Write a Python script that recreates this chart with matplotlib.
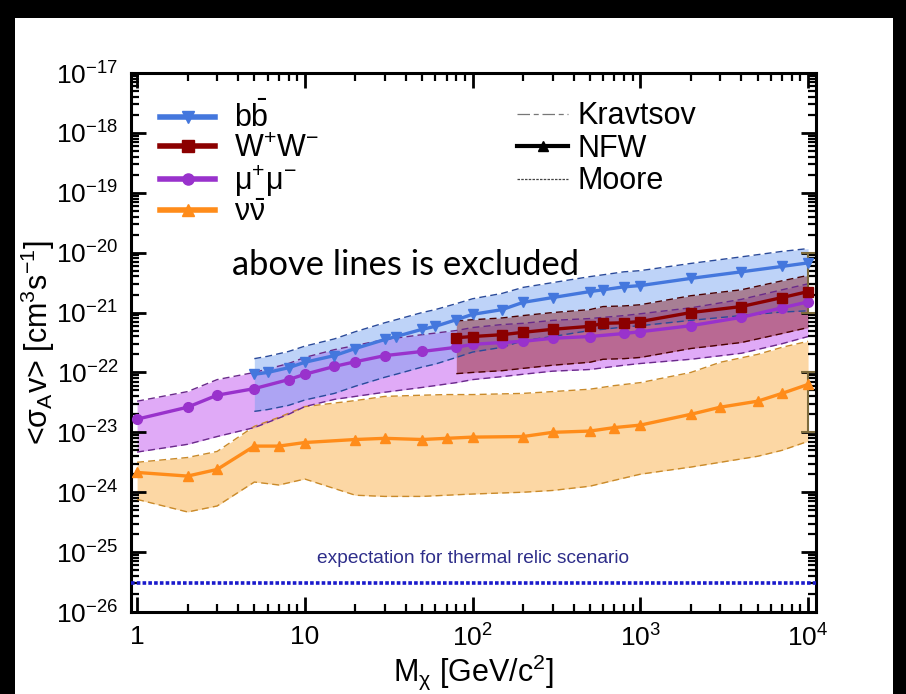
import numpy as np
import matplotlib
matplotlib.use("Agg")
import matplotlib.pyplot as plt
from matplotlib.lines import Line2D
from matplotlib.patches import Rectangle
from matplotlib.ticker import LogLocator, NullFormatter

plt.rcParams.update({
    'font.family': 'Liberation Sans',
    'mathtext.fontset': 'custom',
    'mathtext.rm': 'Liberation Sans',
    'mathtext.it': 'Liberation Sans:italic',
    'mathtext.bf': 'Liberation Sans:bold',
})

# ----------------------------
# Data
# ----------------------------
# b bbar
bb_mass = [5, 6, 8, 10, 15, 20, 30, 35, 50, 60, 80, 100, 150, 200, 300, 500, 600, 800, 1000, 2000, 4000, 7000, 10000]
bb_mid = [9.33e-23, 1.0e-22, 1.20e-22, 1.48e-22, 1.91e-22, 2.51e-22, 3.55e-22, 3.98e-22, 5.25e-22, 5.89e-22, 7.59e-22,
          9.33e-22, 1.12e-21, 1.48e-21, 1.78e-21, 2.24e-21, 2.40e-21, 2.69e-21, 2.82e-21, 3.72e-21, 4.79e-21, 5.89e-21, 6.76e-21]
bb_hi = [1.70e-22, 1.86e-22, 2.24e-22, 2.75e-22, 3.63e-22, 4.79e-22, 6.76e-22, 7.59e-22, 1.0e-21, 1.12e-21, 1.41e-21,
         1.70e-21, 2.09e-21, 2.63e-21, 3.16e-21, 3.98e-21, 4.27e-21, 4.79e-21, 5.01e-21, 6.61e-21, 8.51e-21, 1.05e-20, 1.17e-20]
bb_lo = [2.24e-23, 2.40e-23, 2.82e-23, 3.47e-23, 4.47e-23, 5.89e-23, 8.32e-23, 9.33e-23, 1.23e-22, 1.38e-22, 1.78e-22,
         2.19e-22, 2.63e-22, 3.39e-22, 3.98e-22, 5.01e-22, 5.25e-22, 5.75e-22, 6.03e-22, 7.41e-22, 8.91e-22, 1.02e-21, 1.07e-21]

# W+ W-
ww_mass = [80, 100, 150, 200, 300, 500, 600, 800, 1000, 2000, 4000, 7000, 10000]
ww_mid = [3.80e-22, 3.98e-22, 4.27e-22, 4.68e-22, 5.25e-22, 5.89e-22, 6.61e-22, 6.76e-22, 7.08e-22, 1.0e-21, 1.26e-21, 1.78e-21, 2.24e-21]
ww_hi = [7.24e-22, 7.59e-22, 8.13e-22, 8.91e-22, 1.0e-21, 1.12e-21, 1.26e-21, 1.29e-21, 1.35e-21, 1.91e-21, 2.40e-21, 3.39e-21, 4.17e-21]
ww_lo = [9.55e-23, 1.0e-22, 1.07e-22, 1.17e-22, 1.32e-22, 1.48e-22, 1.66e-22, 1.70e-22, 1.78e-22, 2.51e-22, 3.16e-22, 4.47e-22, 5.62e-22]

# mu+ mu-
mm_mass = [1, 2, 3, 5, 8, 10, 15, 20, 30, 50, 80, 100, 150, 200, 300, 500, 800, 1000, 2000, 4000, 7000, 10000]
mm_mid = [1.66e-23, 2.63e-23, 4.17e-23, 5.37e-23, 7.59e-23, 9.33e-23, 1.26e-22, 1.51e-22, 1.91e-22, 2.24e-22, 2.63e-22,
          2.95e-22, 3.16e-22, 3.31e-22, 3.72e-22, 3.98e-22, 4.47e-22, 4.79e-22, 6.03e-22, 8.32e-22, 1.20e-21, 1.51e-21]
mm_hi = [3.31e-23, 4.79e-23, 7.59e-23, 1.0e-22, 1.41e-22, 1.78e-22, 2.40e-22, 2.82e-22, 3.55e-22, 4.27e-22, 5.01e-22,
         5.62e-22, 6.31e-22, 6.61e-22, 7.41e-22, 7.94e-22, 8.91e-22, 9.55e-22, 1.20e-21, 1.66e-21, 2.40e-21, 3.02e-21]
mm_lo = [4.68e-24, 6.31e-24, 8.51e-24, 1.20e-23, 2.0e-23, 2.69e-23, 3.55e-23, 3.98e-23, 4.68e-23, 5.62e-23, 6.76e-23,
         7.59e-23, 8.51e-23, 9.33e-23, 1.05e-22, 1.12e-22, 1.32e-22, 1.41e-22, 1.66e-22, 2.09e-22, 3.02e-22, 3.98e-22]

# nu nubar
nn_mass = [1, 2, 3, 5, 7, 10, 20, 30, 50, 70, 100, 200, 300, 500, 700, 1000, 2000, 3000, 5000, 7000, 10000]
nn_mid = [2.14e-24, 1.86e-24, 2.40e-24, 5.89e-24, 5.89e-24, 6.76e-24, 7.59e-24, 7.94e-24, 7.59e-24, 7.94e-24, 8.32e-24,
          8.51e-24, 1.0e-23, 1.05e-23, 1.20e-23, 1.32e-23, 2.0e-23, 2.63e-23, 3.31e-23, 4.47e-23, 6.31e-23]
nn_hi = [3.16e-24, 3.80e-24, 4.79e-24, 1.26e-23, 1.78e-23, 2.69e-23, 3.39e-23, 3.98e-23, 4.17e-23, 4.27e-23, 4.27e-23,
         4.47e-23, 4.79e-23, 5.25e-23, 6.03e-23, 6.76e-23, 1.0e-22, 1.48e-22, 2.0e-22, 2.63e-22, 3.31e-22]
nn_lo = [7.59e-25, 4.68e-25, 5.89e-25, 1.48e-24, 1.32e-24, 1.66e-24, 8.91e-25, 8.51e-25, 8.51e-25, 8.91e-25, 9.33e-25,
         1.0e-24, 1.07e-24, 1.26e-24, 1.58e-24, 2.0e-24, 2.63e-24, 3.16e-24, 3.98e-24, 5.01e-24, 7.08e-24]

# end-point bars at the highest mass
cap_mass = [10000, 10000]
cap_lo = [1.0e-21, 1.0e-23]
cap_hi = [1.0e-20, 1.0e-22]

thermal_relic = 3.0e-26

channels = [
    # mass, mid, hi, lo, line colour, fill colour, edge colour, marker, label
    (nn_mass, nn_mid, nn_hi, nn_lo, '#ff8c1a', '#f9a836', '#c98a2a', '^', r'$\mathrm{\nu\bar{\nu}}$'),
    (mm_mass, mm_mid, mm_hi, mm_lo, '#9932cc', '#bb44ee', '#6a2a8a', 'o', r'$\mathrm{\mu^{+}\mu^{-}}$'),
    (bb_mass, bb_mid, bb_hi, bb_lo, '#4477dd', '#6f9ef0', '#2a4a9a', 'v', r'$\mathrm{b\bar{b}}$'),
    (ww_mass, ww_mid, ww_hi, ww_lo, '#8b0000', '#8b1a1a', '#4a0000', 's', r'$\mathrm{W^{+}W^{-}}$'),
]

# ----------------------------
# Figure
# ----------------------------
fig = plt.figure(figsize=(9.06, 6.94), dpi=100, facecolor='black')
fig.add_artist(Rectangle((15 / 906, 0), (893 - 15) / 906, 1 - 18 / 694,
                         transform=fig.transFigure, facecolor='white', edgecolor='none', zorder=-5))
ax = fig.add_axes([131 / 906, 1 - 612 / 694, 685 / 906, 539 / 694])
ax.set_xscale('log')
ax.set_yscale('log')
ax.set_xlim(0.92, 1.115e4)
ax.set_ylim(1e-26, 1e-17)

for mass, mid, hi, lo, lc, fc, ec, mk, lbl in channels:
    ax.fill_between(mass, lo, hi, color=fc, alpha=0.45, linewidth=0, zorder=1)
    ax.plot(mass, hi, color=ec, lw=1.0, dashes=(5, 3), zorder=2)
    ax.plot(mass, lo, color=ec, lw=1.0, dashes=(5, 3), zorder=2)

for mass, mid, hi, lo, lc, fc, ec, mk, lbl in channels:
    ax.plot(mass, mid, color=lc, lw=2.4, marker=mk, markersize=7, zorder=4)

ax.errorbar(cap_mass, [np.sqrt(a * b) for a, b in zip(cap_lo, cap_hi)],
            yerr=[[np.sqrt(a * b) - a for a, b in zip(cap_lo, cap_hi)],
                  [b - np.sqrt(a * b) for a, b in zip(cap_lo, cap_hi)]],
            fmt='none', ecolor='#7d6b3d', elinewidth=1.5, capsize=5, capthick=1.5, zorder=3)

ax.axhline(thermal_relic, color='#1a1acc', lw=2.6, linestyle=(0, (1, 0.6)), zorder=3)
ax.text(0.5, 0.1, 'expectation for thermal relic scenario', transform=ax.transAxes,
        ha='center', va='center', fontsize=13.8, color='#2e2e8a')

ax.text(0.147, 0.644, 'above lines is excluded', transform=ax.transAxes,
        ha='left', va='center', fontsize=24.8, family='Lato', color='black')

# legends
ch_handles = [Line2D([], [], color=c[4], lw=4, marker=c[7], markersize=8) for c in
              [channels[2], channels[3], channels[1], channels[0]]]
ch_labels = [c[8] for c in [channels[2], channels[3], channels[1], channels[0]]]
leg1 = ax.legend(ch_handles, ch_labels, loc='upper left', bbox_to_anchor=(0.025, 0.97),
                 frameon=False, fontsize=22, handlelength=1.8, handletextpad=0.6,
                 labelspacing=-0.02, borderaxespad=0)
ax.add_artist(leg1)

prof_handles = [Line2D([], [], color='#777777', lw=0.9, dashes=(10, 3, 4, 3)),
                Line2D([], [], color='black', lw=3, marker='^', markersize=7),
                Line2D([], [], color='#444444', lw=0.9, dashes=(2, 1))]
ax.legend(prof_handles, ['Kravtsov', 'NFW', 'Moore'], loc='upper left', bbox_to_anchor=(0.545, 0.97),
          frameon=False, fontsize=22, handlelength=1.7, handletextpad=0.3,
          labelspacing=0.08, borderaxespad=0)

# axes styling
ax.set_xticks([1, 10, 100, 1000, 10000])
ax.set_xticklabels(['1', '10', '$10^{2}$', '$10^{3}$', '$10^{4}$'])
ax.xaxis.set_minor_locator(LogLocator(base=10, subs=np.arange(2, 10), numticks=10))
ax.xaxis.set_minor_formatter(NullFormatter())
ax.yaxis.set_major_locator(LogLocator(base=10, numticks=20))
ax.yaxis.set_minor_locator(LogLocator(base=10, subs=np.arange(2, 10), numticks=20))
ax.yaxis.set_minor_formatter(NullFormatter())

ax.tick_params(which='both', direction='in', top=True, right=True)
ax.tick_params(which='major', length=11, width=2, labelsize=19, pad=9)
ax.tick_params(which='minor', length=6, width=1.6)
for s in ax.spines.values():
    s.set_linewidth(2.2)

ax.set_xlabel(r'M$_{\mathrm{\chi}}$ [GeV/c$^{2}$]', fontsize=22)
ax.set_ylabel(r'<$\mathrm{\sigma_{A}}$v> [cm$^{3}$s$^{-1}$]', fontsize=22)
ax.xaxis.set_label_coords(0.5, -0.075)
ax.yaxis.set_label_coords(-0.108, 0.5)

fig.savefig('out.png', dpi=100, facecolor=fig.get_facecolor())
